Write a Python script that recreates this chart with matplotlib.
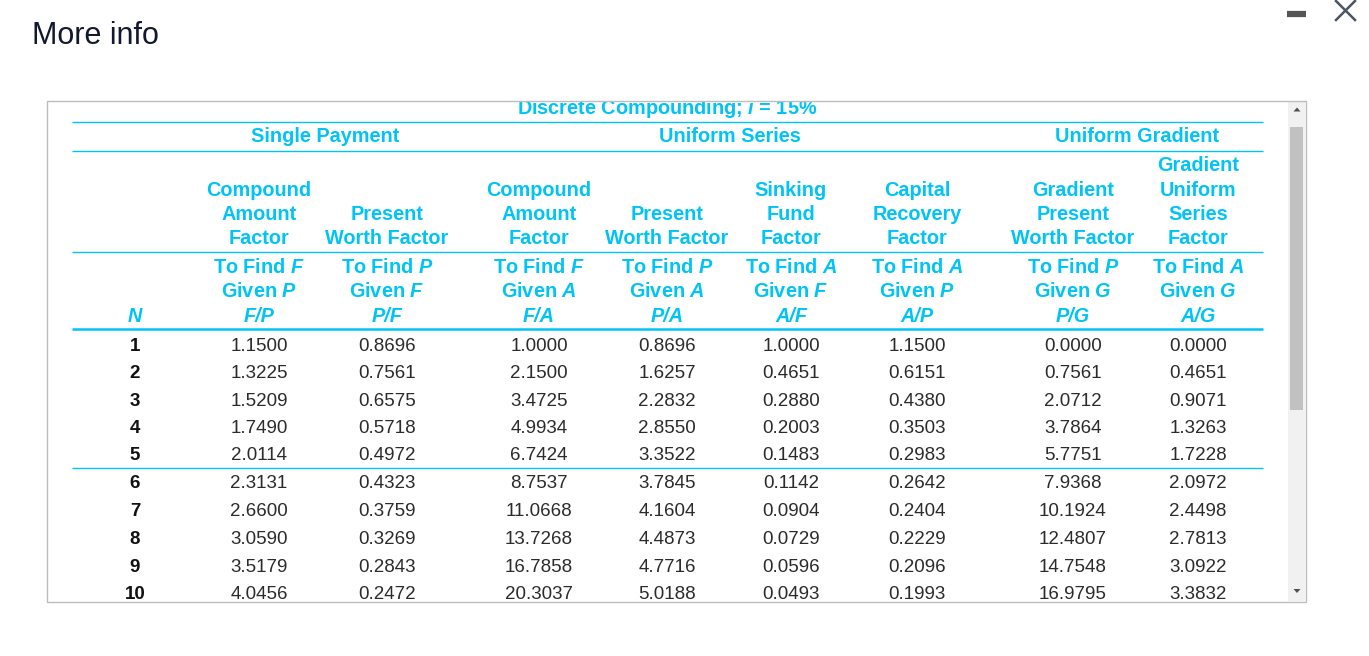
import matplotlib.pyplot as plt
from matplotlib.patches import Rectangle, Polygon

plt.rcParams['font.family'] = ['Liberation Sans', 'DejaVu Sans']
plt.rcParams['mathtext.fontset'] = 'custom'
plt.rcParams['mathtext.rm'] = 'Liberation Sans:bold'
plt.rcParams['mathtext.it'] = 'Liberation Sans:italic:bold'
plt.rcParams['mathtext.bf'] = 'Liberation Sans:bold'

# ---- donnees du tableau (i = 15 %) ----
periods = [1, 2, 3, 4, 5, 6, 7, 8, 9, 10]
fp = ["1.1500", "1.3225", "1.5209", "1.7490", "2.0114", "2.3131", "2.6600", "3.0590", "3.5179", "4.0456"]
pf = ["0.8696", "0.7561", "0.6575", "0.5718", "0.4972", "0.4323", "0.3759", "0.3269", "0.2843", "0.2472"]
fa = ["1.0000", "2.1500", "3.4725", "4.9934", "6.7424", "8.7537", "11.0668", "13.7268", "16.7858", "20.3037"]
pa = ["0.8696", "1.6257", "2.2832", "2.8550", "3.3522", "3.7845", "4.1604", "4.4873", "4.7716", "5.0188"]
af = ["1.0000", "0.4651", "0.2880", "0.2003", "0.1483", "0.1142", "0.0904", "0.0729", "0.0596", "0.0493"]
ap = ["1.1500", "0.6151", "0.4380", "0.3503", "0.2983", "0.2642", "0.2404", "0.2229", "0.2096", "0.1993"]
pg = ["0.0000", "0.7561", "2.0712", "3.7864", "5.7751", "7.9368", "10.1924", "12.4807", "14.7548", "16.9795"]
ag = ["0.0000", "0.4651", "0.9071", "1.3263", "1.7228", "2.0972", "2.4498", "2.7813", "3.0922", "3.3832"]

columns = [fp, pf, fa, pa, af, ap, pg, ag]
factor_names = [
    ["Compound", "Amount", "Factor"],
    ["Present", "Worth Factor"],
    ["Compound", "Amount", "Factor"],
    ["Present", "Worth Factor"],
    ["Sinking", "Fund", "Factor"],
    ["Capital", "Recovery", "Factor"],
    ["Gradient", "Present", "Worth Factor"],
    ["Gradient", "Uniform", "Series", "Factor"],
]
to_find = ["F", "P", "F", "P", "A", "A", "P", "A"]
given = ["P", "F", "A", "A", "F", "P", "G", "G"]
notation = ["F/P", "P/F", "F/A", "P/A", "A/F", "A/P", "P/G", "A/G"]
groups = ["Single Payment", "Uniform Series", "Uniform Gradient"]
title = "Discrete Compounding; $i$ = 15%"

# ---- mise en page (pixels) ----
CYAN = '#00c4f5'
HFS = 14.3   # taille des en-tetes
DFS = 13.5   # taille des valeurs
col_x = [259, 387, 539, 667, 791, 917, 1073, 1198]
n_x = 135
group_x = [325, 730, 1137]
header_base = [171, 195.5, 219.5, 244]
row_base = [351 + 27.3 * i for i in range(5)] + [488.5 + 27.7 * i for i in range(5)]

fig = plt.figure(figsize=(13.69, 6.56), dpi=100)
ax = fig.add_axes([0, 0, 1, 1])
ax.set_xlim(0, 1369)
ax.set_ylim(656, 0)
ax.axis('off')

# titre de la fenetre
ax.text(32, 44, "More info", fontsize=22, color='#111a2c', va='baseline', ha='left')
ax.plot([1287, 1306], [13.5, 13.5], color='#555555', lw=4.5, solid_capstyle='butt')
ax.plot([1336, 1355], [1, 20], color='#4b5662', lw=1.8)
ax.plot([1336, 1355], [20, 1], color='#4b5662', lw=1.8)

# titre du tableau (coupe par le cadre)
ax.text(667, 114.5, title, fontsize=HFS, fontweight='bold', color=CYAN,
        ha='center', va='baseline', zorder=2)
ax.add_patch(Rectangle((47, 88), 1240, 12.5, facecolor='white', edgecolor='none', zorder=3))

# lignes horizontales
for y, lw in [(121.5, 1.0), (150.5, 1.0), (251.5, 1.0), (329, 1.8), (468, 1.0)]:
    ax.plot([72, 1263], [y, y], color=CYAN, lw=lw, solid_capstyle='butt', zorder=2)

# groupes
for gx, g in zip(group_x, groups):
    ax.text(gx, 142, g, fontsize=HFS, fontweight='bold', color=CYAN, ha='center', va='baseline')

# en-tetes de colonnes
for cx, names, f, gv, nt in zip(col_x, factor_names, to_find, given, notation):
    for k, line in enumerate(names):
        y = header_base[len(header_base) - len(names) + k]
        ax.text(cx, y, line, fontsize=HFS, fontweight='bold', color=CYAN, ha='center', va='baseline')
    ax.text(cx, 273, "To Find $" + f + "$", fontsize=HFS, fontweight='bold', color=CYAN,
            ha='center', va='baseline')
    ax.text(cx, 297, "Given $" + gv + "$", fontsize=HFS, fontweight='bold', color=CYAN,
            ha='center', va='baseline')
    ax.text(cx, 322, nt, fontsize=HFS, fontweight='bold', fontstyle='italic', color=CYAN,
            ha='center', va='baseline')
ax.text(n_x, 322, "N", fontsize=HFS, fontweight='bold', fontstyle='italic', color=CYAN,
        ha='center', va='baseline')

# valeurs
for i, n in enumerate(periods):
    ax.text(n_x, row_base[i], str(n), fontsize=DFS, fontweight='bold', color='#111111',
            ha='center', va='baseline')
    for cx, col in zip(col_x, columns):
        ax.text(cx, row_base[i], col[i], fontsize=DFS, color='#2b2b2b', ha='center', va='baseline')

# cadre + barre de defilement
ax.add_patch(Rectangle((1288, 101), 17, 500, facecolor='#f1f1f1', edgecolor='none', zorder=4))
ax.add_patch(Rectangle((1290, 127), 13, 283, facecolor='#c1c1c1', edgecolor='none', zorder=5))
ax.add_patch(Polygon([[1293.5, 111.5], [1300.5, 111.5], [1297, 107.5]], closed=True,
                     facecolor='#505050', edgecolor='none', zorder=5))
ax.add_patch(Polygon([[1293.5, 589], [1300.5, 589], [1297, 593]], closed=True,
                     facecolor='#505050', edgecolor='none', zorder=5))
ax.add_patch(Rectangle((46.5, 100.5), 1259, 501, facecolor='none', edgecolor='#bdbdbd', lw=1.0, zorder=6))

fig.savefig("out.png", dpi=100)
